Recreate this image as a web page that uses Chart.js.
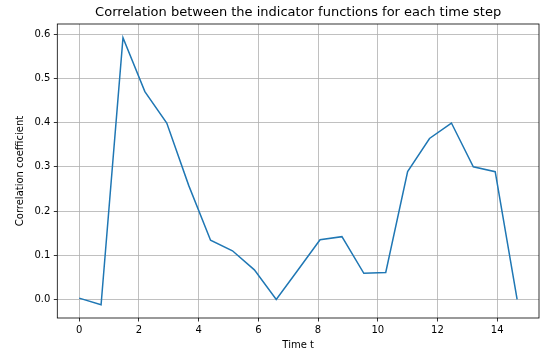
<!DOCTYPE html>
<html>
<head>
<meta charset="utf-8">
<script src="https://cdn.jsdelivr.net/npm/chart.js@4/dist/chart.umd.min.js"></script>
<style>
  html, body { margin: 0; padding: 0; background: #fff; }
  #wrap { width: 540px; height: 353px; }
</style>
</head>
<body>
<div id="wrap"><canvas id="chart" width="540" height="353"></canvas></div>
<script>
// Time steps and the correlation coefficient at each step
const timeSteps = [0, 0.733, 1.467, 2.2, 2.933, 3.667, 4.4, 5.133, 5.867, 6.6, 7.333,
                   8.067, 8.8, 9.533, 10.267, 11.0, 11.733, 12.467, 13.2, 13.933, 14.667];
const correlation = [0.003, -0.012, 0.592, 0.470, 0.399, 0.258, 0.134, 0.110, 0.067, 0.000, 0.067,
                     0.135, 0.142, 0.059, 0.061, 0.289, 0.364, 0.399, 0.300, 0.289, 0.000];
const xTicks = [0, 2, 4, 6, 8, 10, 12, 14];
const yTicks = [0.0, 0.1, 0.2, 0.3, 0.4, 0.5, 0.6];

const chartTitle = 'Correlation between the indicator functions for each time step';
const xTitle = 'Time t';
const yTitle = 'Correlation coefficient';

const FONT = 'DejaVu Sans';

// Full box around the plotting area
const frame = {
  id: 'frame',
  afterDatasetsDraw(chart) {
    const { ctx, chartArea: a } = chart;
    ctx.save();
    ctx.strokeStyle = '#000';
    ctx.lineWidth = 0.8;
    ctx.strokeRect(a.left, a.top, a.right - a.left, a.bottom - a.top);
    ctx.restore();
  }
};

new Chart(document.getElementById('chart'), {
  type: 'line',
  data: {
    datasets: [{
      data: timeSteps.map((t, i) => ({ x: t, y: correlation[i] })),
      borderColor: '#1f77b4',
      borderWidth: 1.5,
      pointRadius: 0,
      tension: 0,
      fill: false
    }]
  },
  options: {
    responsive: false,
    animation: false,
    layout: { padding: { left: 0, right: 1, top: 0, bottom: 0 } },
    plugins: {
      legend: { display: false },
      tooltip: { enabled: false },
      title: {
        display: true,
        text: chartTitle,
        fullSize: false,
        color: '#000',
        font: { family: FONT, size: 13, weight: 'normal' },
        padding: { top: 4.9, bottom: 3.5 }
      }
    },
    scales: {
      x: {
        type: 'linear',
        min: -0.733,
        max: 15.4,
        afterBuildTicks: s => { s.ticks = xTicks.map(v => ({ value: v })); },
        afterFit: s => { s.height = 35; },
        ticks: {
          color: '#000',
          font: { family: FONT, size: 10 },
          padding: 3,
          maxRotation: 0,
          callback: v => String(v)
        },
        grid: {
          color: '#b0b0b0',
          lineWidth: 0.8,
          tickColor: '#000',
          tickLength: 3.5,
          tickWidth: 0.8
        },
        border: { display: false },
        title: {
          display: true,
          text: xTitle,
          color: '#000',
          font: { family: FONT, size: 10 },
          padding: { top: 0, bottom: 1.3 }
        }
      },
      y: {
        type: 'linear',
        min: -0.042,
        max: 0.623,
        afterBuildTicks: s => { s.ticks = yTicks.map(v => ({ value: v })); },
        afterFit: s => { s.width = 57.3; },
        ticks: {
          color: '#000',
          font: { family: FONT, size: 10 },
          padding: 3.5,
          callback: v => Number(v).toFixed(1)
        },
        grid: {
          color: '#b0b0b0',
          lineWidth: 0.8,
          tickColor: '#000',
          tickLength: 3.5,
          tickWidth: 0.8
        },
        border: { display: false },
        title: {
          display: true,
          text: yTitle,
          color: '#000',
          font: { family: FONT, size: 10 },
          padding: { top: 14, bottom: 0 }
        }
      }
    }
  },
  plugins: [frame]
});
</script>
</body>
</html>
